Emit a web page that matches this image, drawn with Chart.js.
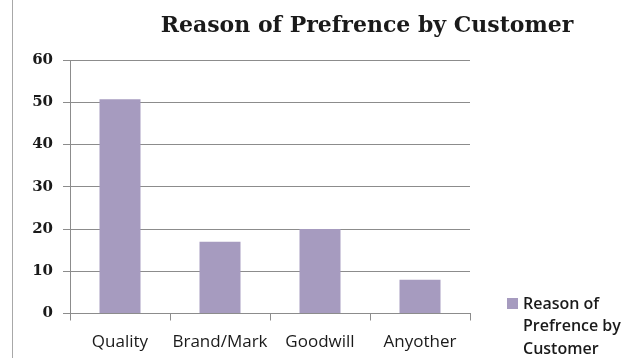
<!DOCTYPE html>
<html>
<head>
<meta charset="utf-8">
<script src="https://cdn.jsdelivr.net/npm/chart.js@4"></script>
<style>
  html, body { margin: 0; padding: 0; background: #ffffff; }
  #wrap { position: relative; width: 624px; height: 358px; }
</style>
</head>
<body>
<div id="wrap"><canvas id="c" width="624" height="358"></canvas></div>
<script>
const chartTitle = "Reason of Prefrence by Customer";
const categories = ["Quality", "Brand/Mark", "Goodwill", "Anyother"];
const seriesName = "Reason of Prefrence by Customer";
const seriesValues = [50.7, 17, 20, 8];
const yTicks = [0, 10, 20, 30, 40, 50, 60];

const barColor = "#A69BBF";
const gridColor = "#8C8C8C";

const decorPlugin = {
  id: "decor",
  beforeDraw(chart) {
    const ctx = chart.ctx;
    ctx.save();
    ctx.fillStyle = "#ffffff";
    ctx.fillRect(0, 0, chart.width, chart.height);
    ctx.strokeStyle = "#A8A8A8";
    ctx.lineWidth = 1;
    ctx.beginPath();
    ctx.moveTo(12.5, 0);
    ctx.lineTo(12.5, chart.height);
    ctx.stroke();
    ctx.restore();
  },
  afterDraw(chart) {
    const ctx = chart.ctx;
    ctx.save();
    // title
    ctx.fillStyle = "#1a1a1a";
    ctx.font = "bold 22px 'DejaVu Serif'";
    ctx.textAlign = "center";
    ctx.textBaseline = "alphabetic";
    ctx.fillText(chartTitle, 367, 32);
    // legend
    const ds = chart.data.datasets[0];
    ctx.fillStyle = ds.backgroundColor;
    ctx.fillRect(507, 298, 11, 11);
    ctx.fillStyle = "#1a1a1a";
    ctx.font = "600 16px 'Open Sans'";
    ctx.textAlign = "left";
    ctx.textBaseline = "middle";
    const words = ds.label.split(" ");
    const lines = [];
    let cur = "";
    for (const w of words) {
      const t = cur ? cur + " " + w : w;
      if (ctx.measureText(t).width > 101 && cur) { lines.push(cur); cur = w; }
      else cur = t;
    }
    if (cur) lines.push(cur);
    lines.forEach((ln, i) => ctx.fillText(ln, 523, 304 + i * 22.5));
    ctx.restore();
  }
};

new Chart(document.getElementById("c"), {
  type: "bar",
  data: {
    labels: categories,
    datasets: [{
      label: seriesName,
      data: seriesValues,
      backgroundColor: barColor,
      borderWidth: 0,
      barPercentage: 0.41,
      categoryPercentage: 1.0
    }]
  },
  options: {
    responsive: false,
    animation: false,
    devicePixelRatio: 1,
    layout: { padding: { left: 0, right: 154, top: 60, bottom: 0 } },
    plugins: {
      legend: { display: false },
      title: { display: false },
      tooltip: { enabled: false }
    },
    scales: {
      x: {
        offset: true,
        grid: {
          display: true,
          drawOnChartArea: false,
          drawTicks: true,
          tickLength: 7,
          color: gridColor,
          offset: true
        },
        border: { display: true, color: gridColor, width: 1 },
        ticks: {
          color: "#1a1a1a",
          font: { family: "'Open Sans'", size: 17 },
          padding: 11,
          maxRotation: 0
        },
        afterFit(scale) { scale.height = 44.5; }
      },
      y: {
        min: 0,
        max: 60,
        afterBuildTicks(scale) { scale.ticks = yTicks.map(v => ({ value: v })); },
        grid: {
          color: gridColor,
          tickLength: 7,
          drawTicks: true
        },
        border: { display: true, color: gridColor, width: 1 },
        ticks: {
          color: "#1a1a1a",
          font: { family: "'DejaVu Serif'", size: 15, weight: "bold" },
          padding: 10
        },
        afterFit(scale) { scale.width = 70; }
      }
    }
  },
  plugins: [decorPlugin]
});
</script>
</body>
</html>
